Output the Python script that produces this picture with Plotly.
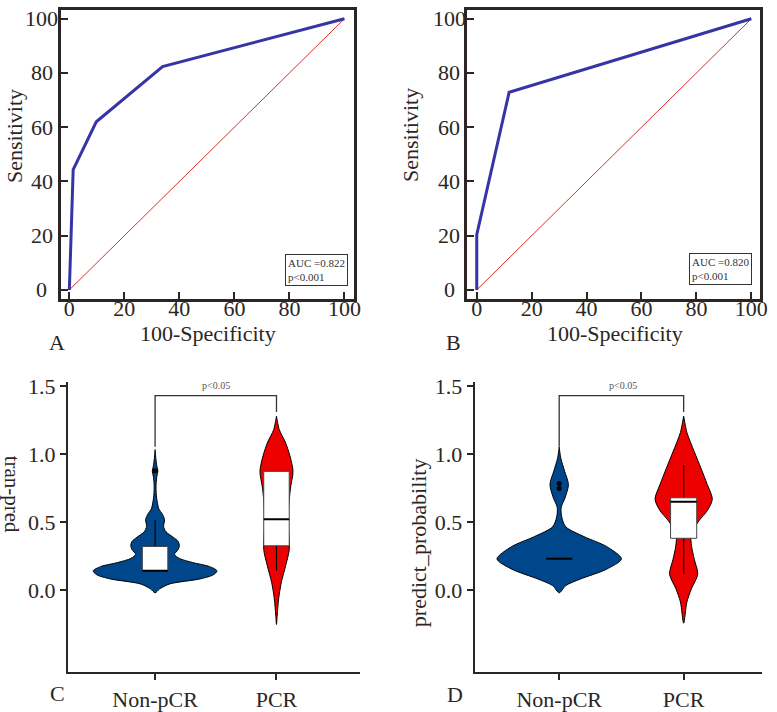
import plotly.graph_objects as go

# ---------------- data ----------------
roc_a_fpr = [0, 1.4, 9.8, 33.9, 100]
roc_a_tpr = [0, 44.4, 62.0, 82.4, 100]
roc_b_fpr = [0, 0, 11.8, 100]
roc_b_tpr = [0, 20.4, 72.9, 100]
chance_line = [0, 100]
roc_ticks = [0, 20, 40, 60, 80, 100]
auc_a_text = "AUC =0.822<br>p&lt;0.001"
auc_b_text = "AUC =0.820<br>p&lt;0.001"

groups = ["Non-pCR", "PCR"]
group_pos = [0, 1]
violin_ticks = [0.0, 0.5, 1.0, 1.5]
violin_ticktext = ["0.0", "0.5", "1.0", "1.5"]

# violin density profiles (value, half-width in category units)
c_non_v = [-0.017, 0.012, 0.048, 0.085, 0.115, 0.144, 0.175, 0.205, 0.235, 0.265, 0.30, 0.33, 0.36,
           0.39, 0.43, 0.47, 0.52, 0.56, 0.60, 0.64, 0.70, 0.78, 0.84, 0.875, 0.91, 0.97, 1.034]
c_non_w = [0, 0.038, 0.12, 0.37, 0.48, 0.51, 0.45, 0.31, 0.2, 0.16, 0.19, 0.20, 0.19,
           0.15, 0.09, 0.07, 0.078, 0.06, 0.03, 0.02, 0.01, 0.008, 0.015, 0.023, 0.015, 0.006, 0]
c_pcr_v = [-0.25, -0.18, -0.06, 0.06, 0.18, 0.30, 0.45, 0.60, 0.75, 0.874, 0.99, 1.09, 1.18, 1.28]
c_pcr_w = [0, 0.006, 0.018, 0.04, 0.075, 0.105, 0.1, 0.1, 0.115, 0.136, 0.11, 0.072, 0.023, 0]
d_non_v = [-0.017, 0.036, 0.084, 0.156, 0.232, 0.323, 0.395, 0.467, 0.54, 0.61, 0.68, 0.777, 0.874, 0.97, 1.053]
d_non_w = [0, 0.053, 0.17, 0.38, 0.50, 0.38, 0.2, 0.053, 0.02, 0.016, 0.047, 0.074, 0.044, 0.013, 0]
d_pcr_v = [-0.24, -0.084, 0.012, 0.12, 0.227, 0.323, 0.418, 0.515, 0.586, 0.67, 0.777, 0.897, 1.017, 1.16, 1.28]
d_pcr_w = [0, 0.026, 0.062, 0.113, 0.086, 0.064, 0.06, 0.126, 0.19, 0.23, 0.19, 0.139, 0.086, 0.026, 0]

# box statistics: q1, median, q3, lower whisker, upper whisker
c_non_box = [0.144, 0.144, 0.323, 0.144, 0.515]
c_pcr_box = [0.328, 0.522, 0.874, 0.144, 0.874]
d_non_box = [0.232, 0.232, 0.232, 0.232, 0.232]
d_pcr_box = [0.383, 0.651, 0.68, 0.12, 0.92]
c_non_out = [0.878]
d_non_out = [0.749, 0.785]

# significance bracket: bracket level, left leg end, right leg end
bracket = [1.43, 1.055, 1.31]
sig_text = "p&lt;0.05"

# ---------------- style ----------------
W, H = 777, 712
FONT = "Liberation Serif, Times New Roman, serif"
AX = "#2b2623"
BLUE_ROC = "#3535a6"
RED_DIAG = "#d9302a"
VBLUE = "#00468B"
VRED = "#ED0000"
BOX_W = 0.21


def px(x):
    return x / W


def py(y):
    return 1 - y / H


fig = go.Figure()

# ROC panels
fig.add_trace(go.Scatter(x=chance_line, y=chance_line, mode="lines",
                         line=dict(color=RED_DIAG, width=1), xaxis="x", yaxis="y"))
fig.add_trace(go.Scatter(x=roc_a_fpr, y=roc_a_tpr, mode="lines",
                         line=dict(color=BLUE_ROC, width=3), xaxis="x", yaxis="y"))
fig.add_trace(go.Scatter(x=chance_line, y=chance_line, mode="lines",
                         line=dict(color=RED_DIAG, width=1), xaxis="x2", yaxis="y2"))
fig.add_trace(go.Scatter(x=roc_b_fpr, y=roc_b_tpr, mode="lines",
                         line=dict(color=BLUE_ROC, width=3), xaxis="x2", yaxis="y2"))


def add_violin(pos, vals, widths, color, xa, ya):
    xs = [pos + w for w in widths] + [pos - w for w in reversed(widths)]
    ys = list(vals) + list(reversed(vals))
    fig.add_trace(go.Scatter(x=xs, y=ys, mode="lines", fill="toself", fillcolor=color,
                             line=dict(color="black", width=1, shape="spline", smoothing=0.8),
                             xaxis=xa, yaxis=ya))


def add_box(pos, stats, xa, ya):
    q1, med, q3, lo, hi = stats
    h = BOX_W / 2
    if hi > q3:
        fig.add_trace(go.Scatter(x=[pos, pos], y=[q3, hi], mode="lines",
                                 line=dict(color="black", width=1.2), xaxis=xa, yaxis=ya))
    if lo < q1:
        fig.add_trace(go.Scatter(x=[pos, pos], y=[lo, q1], mode="lines",
                                 line=dict(color="black", width=1.2), xaxis=xa, yaxis=ya))
    if q3 > q1:
        fig.add_trace(go.Scatter(x=[pos - h, pos + h, pos + h, pos - h, pos - h],
                                 y=[q1, q1, q3, q3, q1], mode="lines", fill="toself",
                                 fillcolor="white", line=dict(color="#444444", width=1),
                                 xaxis=xa, yaxis=ya))
    fig.add_trace(go.Scatter(x=[pos - h, pos + h], y=[med, med], mode="lines",
                             line=dict(color="black", width=2), xaxis=xa, yaxis=ya))


def add_bracket(xa, ya):
    lvl, lleg, rleg = bracket
    fig.add_trace(go.Scatter(x=[group_pos[0], group_pos[0], group_pos[1], group_pos[1]],
                             y=[lleg, lvl, lvl, rleg], mode="lines",
                             line=dict(color="#333333", width=1.3), xaxis=xa, yaxis=ya))


add_violin(group_pos[0], c_non_v, c_non_w, VBLUE, "x3", "y3")
add_violin(group_pos[1], c_pcr_v, c_pcr_w, VRED, "x3", "y3")
add_box(group_pos[0], c_non_box, "x3", "y3")
add_box(group_pos[1], c_pcr_box, "x3", "y3")
fig.add_trace(go.Scatter(x=[group_pos[0]] * len(c_non_out), y=c_non_out, mode="markers",
                         marker=dict(color="black", size=5), xaxis="x3", yaxis="y3"))
add_bracket("x3", "y3")

add_violin(group_pos[0], d_non_v, d_non_w, VBLUE, "x4", "y4")
add_violin(group_pos[1], d_pcr_v, d_pcr_w, VRED, "x4", "y4")
add_box(group_pos[0], d_non_box, "x4", "y4")
add_box(group_pos[1], d_pcr_box, "x4", "y4")
fig.add_trace(go.Scatter(x=[group_pos[0]] * len(d_non_out), y=d_non_out, mode="markers",
                         marker=dict(color="black", size=5), xaxis="x4", yaxis="y4"))
add_bracket("x4", "y4")

tickfont = dict(family=FONT, size=22, color=AX)

roc_x = dict(showline=True, mirror=True, linecolor=AX, linewidth=3, ticks="inside", ticklen=7,
             tickwidth=2, tickcolor=AX, tickvals=roc_ticks, showgrid=False, zeroline=False,
             tickfont=tickfont, ticklabelstandoff=-12)
roc_y = dict(showline=True, mirror=True, linecolor=AX, linewidth=3, ticks="inside", ticklen=7,
             tickwidth=2, tickcolor=AX, tickvals=roc_ticks, showticklabels=False, showgrid=False,
             zeroline=False, range=[-3.25, 103.25])
vio_x = dict(showline=True, linecolor=AX, linewidth=2.5, ticks="outside", ticklen=6, tickwidth=2,
             tickcolor=AX, tickvals=group_pos, ticktext=groups, showgrid=False, zeroline=False,
             tickfont=tickfont)
vio_y = dict(showline=True, linecolor=AX, linewidth=2.5, ticks="outside", ticklen=6, tickwidth=2,
             tickcolor=AX, tickvals=violin_ticks, ticktext=violin_ticktext, showgrid=False,
             zeroline=False, tickfont=tickfont, range=[-0.596, 1.53])

fig.update_layout(
    width=W, height=H, margin=dict(l=0, r=0, t=0, b=0),
    paper_bgcolor="white", plot_bgcolor="white", showlegend=False, hovermode=False,
    xaxis=dict(roc_x, domain=[px(62), px(358)], range=[-2.9, 103.6], anchor="y"),
    yaxis=dict(roc_y, domain=[py(297), py(2)], anchor="x"),
    xaxis2=dict(roc_x, domain=[px(472), px(768)], range=[-3.5, 103.2], anchor="y2"),
    yaxis2=dict(roc_y, domain=[py(297), py(2)], anchor="x2"),
    xaxis3=dict(vio_x, domain=[px(69), px(364)], range=[-0.715, 1.69], anchor="y3"),
    yaxis3=dict(vio_y, domain=[py(678), py(382)], anchor="x3"),
    xaxis4=dict(vio_x, domain=[px(480), px(770)], range=[-0.676, 1.63], anchor="y4"),
    yaxis4=dict(vio_y, domain=[py(678), py(382)], anchor="x4"),
)

ann = []
for yref, xc in (("y", 42), ("y2", 454)):
    for t in roc_ticks:
        ann.append(dict(x=px(xc), xref="paper", y=t, yref=yref, text=str(t), showarrow=False,
                        xanchor="center", yanchor="middle", font=tickfont))


def txt(x, y, s, size=22, angle=0, color=AX):
    ann.append(dict(x=px(x), y=py(y), xref="paper", yref="paper", text=s, showarrow=False,
                    xanchor="center", yanchor="middle", textangle=angle,
                    font=dict(family=FONT, size=size, color=color)))


txt(210, 333, "100-Specificity")
txt(621, 333, "100-Specificity")
txt(14, 131, "Sensitivity", angle=-90)
txt(415, 130, "Sensitivity", angle=-90)
txt(13, 497, "tran-pred", size=21, angle=90)
txt(423, 546, "predict_probability", angle=-90)
txt(58, 342, "A")
txt(458, 342, "B")
txt(58, 700, "C")
txt(460, 701, "D")
txt(218, 386, sig_text, size=10, color="#555555")
txt(629, 386, sig_text, size=10, color="#555555")

for x_r, y_b, s in ((352, 284, auc_a_text), (760, 283, auc_b_text)):
    ann.append(dict(x=px(x_r), y=py(y_b), xref="paper", yref="paper", text=s, showarrow=False,
                    xanchor="right", yanchor="bottom", align="left", bgcolor="white",
                    bordercolor="#333333", borderwidth=1, borderpad=2,
                    font=dict(family=FONT, size=11, color="#333333")))

fig.update_layout(annotations=ann)
fig.write_html("out.html", config={"displayModeBar": False, "staticPlot": True},
               post_script="document.body.style.margin='0';")
